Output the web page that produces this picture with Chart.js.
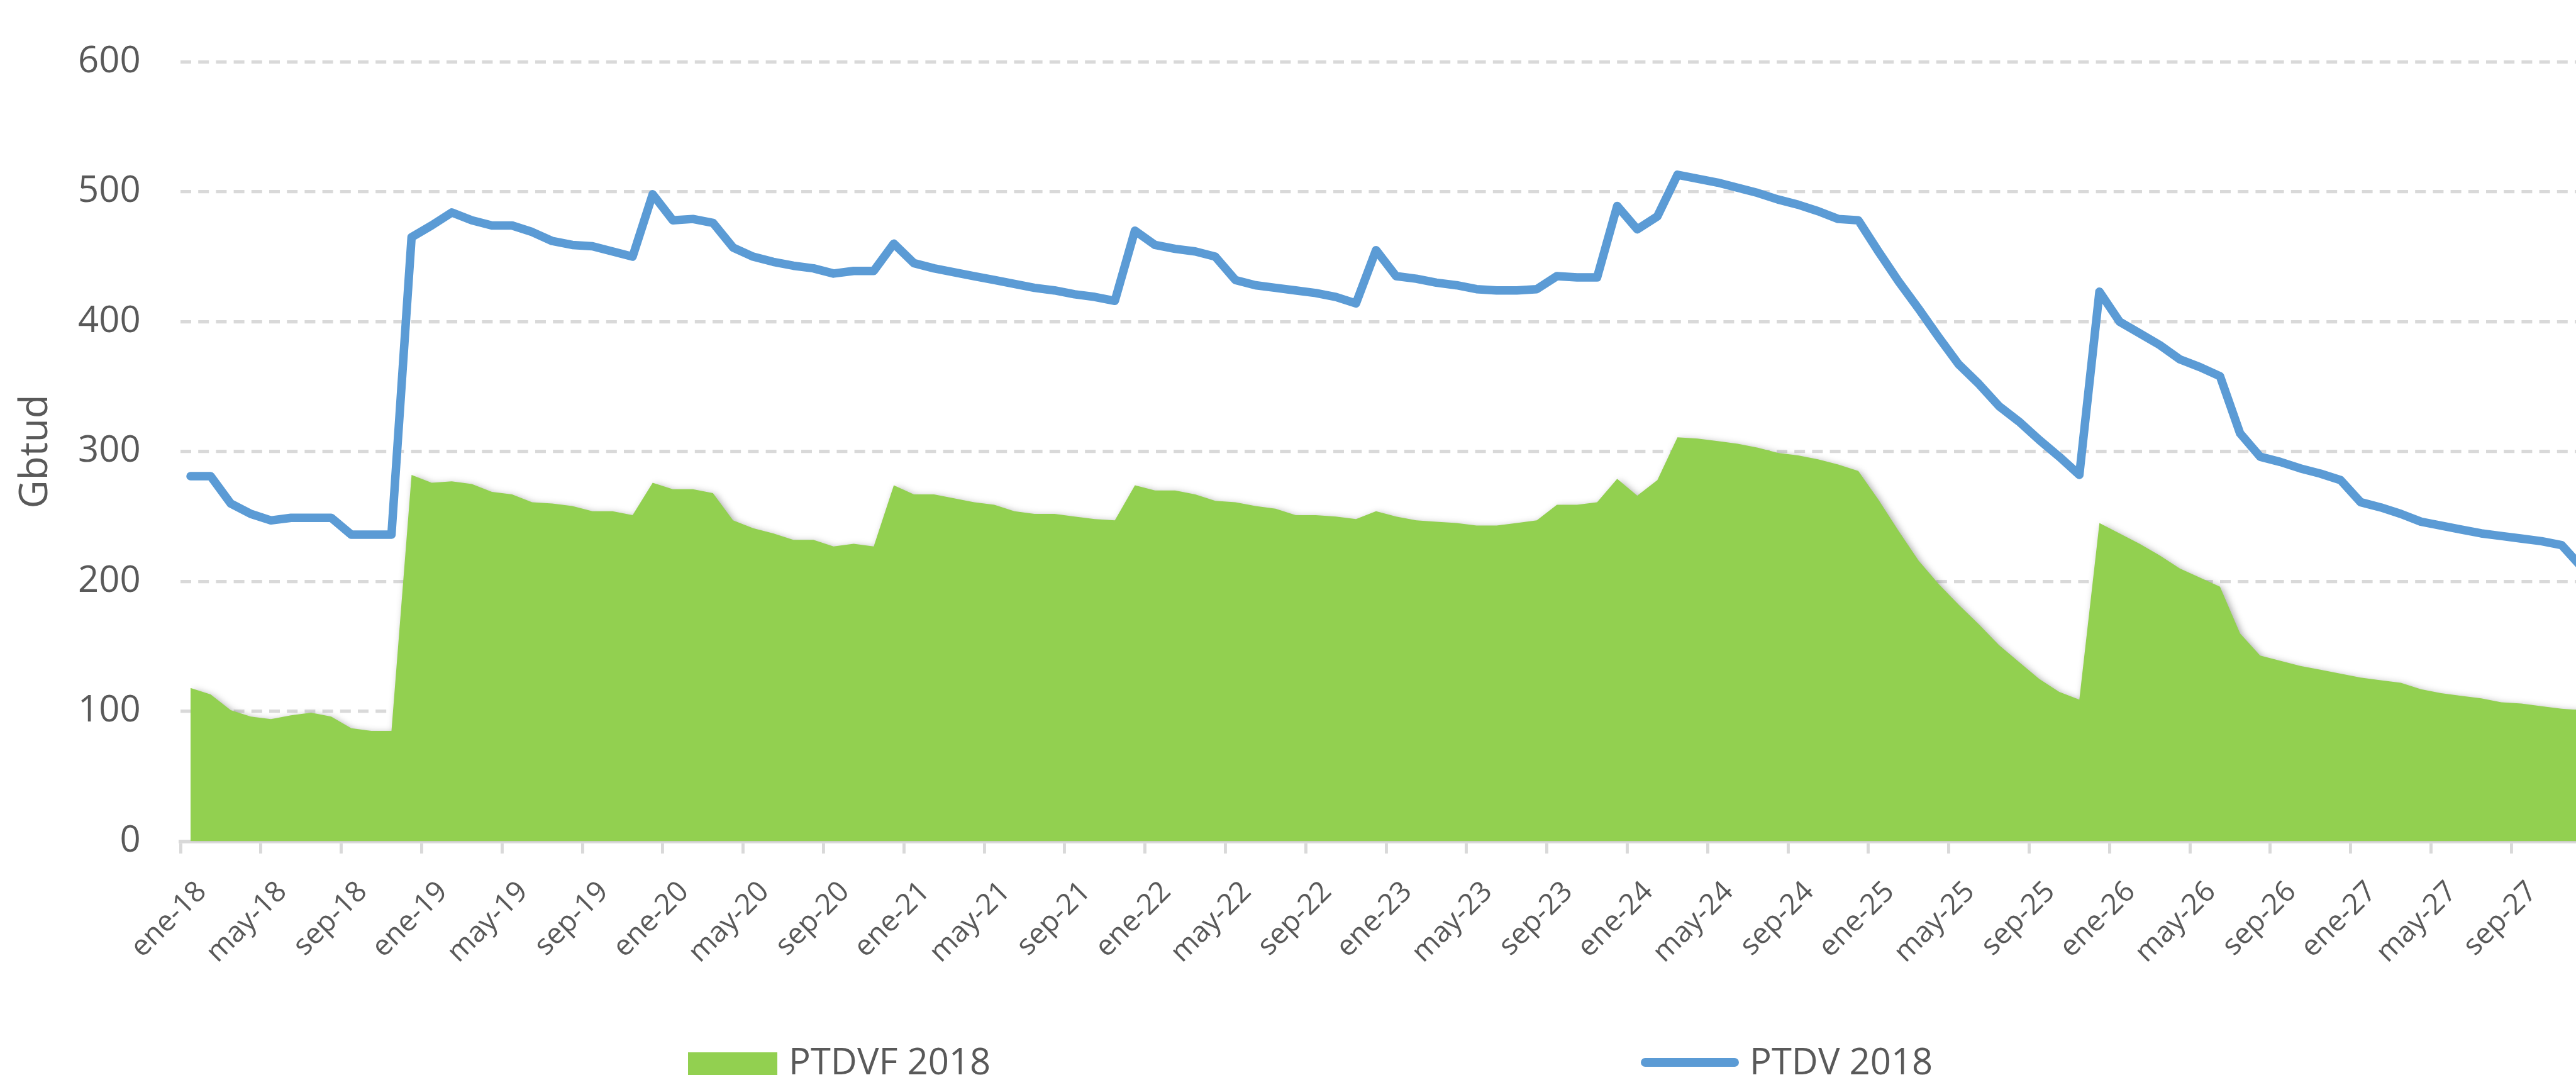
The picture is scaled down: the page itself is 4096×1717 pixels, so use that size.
<!DOCTYPE html>
<html lang="es">
<head>
<meta charset="utf-8">
<title>PTDV 2018 / PTDVF 2018</title>
<script src="https://cdn.jsdelivr.net/npm/chart.js@4.4.1/dist/chart.umd.min.js"></script>
<style>
  html, body { margin: 0; padding: 0; background: #fff; overflow: hidden; }
  #wrap { position: relative; width: 4096px; height: 1717px; overflow: hidden; }
  #gasChart { position: absolute; left: 0; top: 0; }
  .legend-label {
    position: absolute;
    font-family: 'Open Sans', 'Noto Sans', sans-serif;
    font-size: 58px;
    line-height: 1;
    color: #595959;
    white-space: nowrap;
  }
  .legend-color { position: absolute; }
</style>
</head>
<body>
<div id="wrap">
  <canvas id="gasChart" width="4140" height="1717" style="width:4140px;height:1717px"></canvas>
  <div id="legend"></div>
</div>
<script>
// monthly categories ene-18 ... dic-27
const months = ['ene', 'feb', 'mar', 'abr', 'may', 'jun', 'jul', 'ago', 'sep', 'oct', 'nov', 'dic'];
const years = ['18', '19', '20', '21', '22', '23', '24', '25', '26', '27'];

// Gbtud
const ptdvf2018 = [
    118, 113, 101, 96, 94, 97, 99, 96, 87, 85, 85, 282,
    276, 277, 275, 269, 267, 261, 260, 258, 254, 254, 251, 276,
    271, 271, 268, 247, 241, 237, 232, 232, 227, 229, 227, 274,
    267, 267, 264, 261, 259, 254, 252, 252, 250, 248, 247, 274,
    270, 270, 267, 262, 261, 258, 256, 251, 251, 250, 248, 254,
    250, 247, 246, 245, 243, 243, 245, 247, 259, 259, 261, 279,
    266, 278, 311, 310, 308, 306, 303, 299, 297, 294, 290, 285,
    263, 239, 216, 198, 182, 167, 151, 138, 125, 115, 109, 245,
    237, 229, 220, 210, 203, 196, 160, 143, 139, 135, 132, 129,
    126, 124, 122, 117, 114, 112, 110, 107, 106, 104, 102, 101
];

const ptdv2018 = [
    281, 281, 260, 252, 247, 249, 249, 249, 236, 236, 236, 465,
    474, 484, 478, 474, 474, 469, 462, 459, 458, 454, 450, 498,
    478, 479, 476, 457, 450, 446, 443, 441, 437, 439, 439, 460,
    445, 441, 438, 435, 432, 429, 426, 424, 421, 419, 416, 470,
    459, 456, 454, 450, 432, 428, 426, 424, 422, 419, 414, 455,
    435, 433, 430, 428, 425, 424, 424, 425, 435, 434, 434, 489,
    471, 481, 513, 510, 507, 503, 499, 494, 490, 485, 479, 478,
    454, 431, 410, 388, 367, 352, 335, 323, 309, 296, 282, 423,
    400, 391, 382, 371, 365, 358, 314, 296, 292, 287, 283, 278,
    261, 257, 252, 246, 243, 240, 237, 235, 233, 231, 228, 211
];

const yTicks = [0, 100, 200, 300, 400, 500, 600];
const labelStep = 4; // a label (and tick mark) every 4 months

const FONT = "'Open Sans', 'Noto Sans', sans-serif";
const TEXT_COLOR = '#595959';
const GRID_COLOR = '#D9D9D9';
const GREEN = '#92D050';
const BLUE = '#5B9BD5';

const categories = [];
years.forEach(y => {
    months.forEach(m => categories.push(`${m}-${y}`));
});

// soft shadow under the green area, like the Excel one
const areaShadow = {
    id: 'areaShadow',
    beforeDatasetsDraw(chart) {
        const ctx = chart.ctx;
        ctx.save();
        ctx.shadowColor = 'rgba(0, 0, 0, 0.35)';
        ctx.shadowBlur = 12;
        ctx.shadowOffsetX = 4;
        ctx.shadowOffsetY = 3;
    },
    afterDatasetDraw(chart, args) {
        if (args.index === 0) {
            chart.ctx.restore();
        }
    }
};

function buildChart() {
    const ctx = document.getElementById('gasChart');
    if (typeof Chart === 'undefined') {
        console.error('Chart.js is not loaded');
        return;
    }

    new Chart(ctx, {
        type: 'line',
        data: {
            labels: categories,
            datasets: [{
                label: 'PTDVF 2018',
                data: ptdvf2018,
                order: 2,
                fill: 'origin',
                backgroundColor: GREEN,
                borderColor: 'rgba(0,0,0,0)',
                borderWidth: 0,
                pointRadius: 0,
                tension: 0
            }, {
                label: 'PTDV 2018',
                data: ptdv2018,
                order: 1,
                fill: false,
                borderColor: BLUE,
                borderWidth: 13.5,
                borderJoinStyle: 'round',
                borderCapStyle: 'round',
                pointRadius: 0,
                tension: 0
            }]
        },
        options: {
            responsive: false,
            devicePixelRatio: 1,
            animation: false,
            events: [],
            layout: {
                padding: { left: 0, right: 19, top: 44.7, bottom: 0 }
            },
            plugins: {
                legend: { display: false },
                tooltip: { enabled: false }
            },
            scales: {
                x: {
                    type: 'category',
                    offset: true,
                    afterFit: scale => {
                        scale.height = 379.5;
                        // the plot runs past the right edge of the window, so no label padding
                        scale.paddingLeft = 0;
                        scale.paddingRight = 0;
                    },
                    grid: {
                        display: true,
                        offset: true,
                        drawOnChartArea: false,
                        drawTicks: true,
                        tickLength: 19.4,
                        lineWidth: 4.9,
                        color: c => (c.index % labelStep === 0 ? GRID_COLOR : 'rgba(0,0,0,0)')
                    },
                    border: { display: true, color: GRID_COLOR, width: 5.8 },
                    ticks: {
                        autoSkip: false,
                        minRotation: 45,
                        maxRotation: 45,
                        padding: 34,
                        labelOffset: 18,
                        color: TEXT_COLOR,
                        font: { family: FONT, size: 46 },
                        // empty string keeps every tick (null would drop it)
                        callback: function (value, index) {
                            return index % labelStep === 0 ? this.getLabelForValue(value) : '';
                        }
                    }
                },
                y: {
                    min: 0,
                    max: 600,
                    afterFit: scale => { scale.width = 287; },
                    afterBuildTicks: scale => {
                        scale.ticks = yTicks.map(v => ({ value: v }));
                    },
                    grid: {
                        drawTicks: false,
                        lineWidth: 5.3,
                        color: c => (c.tick && c.tick.value === 0 ? 'rgba(0,0,0,0)' : GRID_COLOR)
                    },
                    border: { display: false, dash: [17, 11.2] },
                    ticks: {
                        padding: 63.4,
                        color: TEXT_COLOR,
                        font: { family: FONT, size: 58 }
                    },
                    title: {
                        display: true,
                        text: 'Gbtud',
                        color: TEXT_COLOR,
                        font: { family: FONT, size: 62 },
                        padding: { top: 20.6, bottom: 0 }
                    }
                }
            }
        },
        plugins: [areaShadow]
    });
}

// legend sits below the axis labels, drawn as plain html
const legendItems = [
    { text: 'PTDVF 2018', kind: 'box', color: GREEN, keyLeft: 1093.5, keyTop: 1672.8, keyWidth: 142, keyHeight: 36, textLeft: 1254 },
    { text: 'PTDV 2018', kind: 'line', color: BLUE, keyLeft: 2609, keyTop: 1681.7, keyWidth: 156, keyHeight: 14.6, textLeft: 2782 }
];
const legendBaseline = 1708.8;

function buildLegend() {
    const legend = document.getElementById('legend');
    legend.innerHTML = '';

    legendItems.forEach(item => {
        const key = document.createElement('div');
        key.className = 'legend-color';
        key.style.left = item.keyLeft + 'px';
        key.style.top = item.keyTop + 'px';
        key.style.width = item.keyWidth + 'px';
        key.style.height = item.keyHeight + 'px';
        key.style.backgroundColor = item.color;
        if (item.kind === 'line') {
            key.style.borderRadius = (item.keyHeight / 2) + 'px';
        }
        legend.appendChild(key);

        const label = document.createElement('div');
        label.className = 'legend-label';
        label.textContent = item.text;
        label.style.left = item.textLeft + 'px';
        // Open Sans: baseline sits ~0.888em below the top of a line-height:1 box
        label.style.top = (legendBaseline - 58 * 0.888) + 'px';
        legend.appendChild(label);
    });
}

buildChart();
buildLegend();
</script>
</body>
</html>
